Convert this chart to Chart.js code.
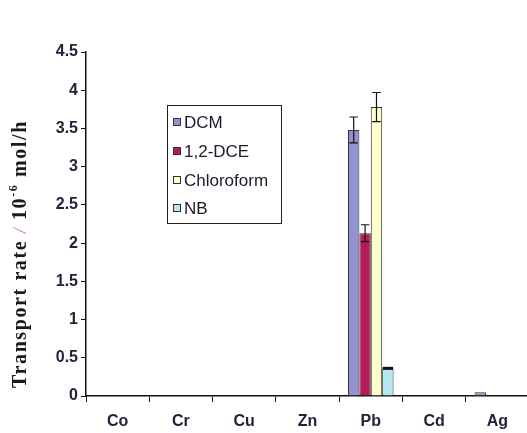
<!DOCTYPE html>
<html>
<head>
<meta charset="utf-8">
<script src="https://cdn.jsdelivr.net/npm/chart.js@4.4.1/dist/chart.umd.min.js"></script>
<style>
html,body{margin:0;padding:0;background:#fff;overflow:hidden;width:527px;height:433px;}
#wrap{position:absolute;left:0;top:0;width:529px;height:433px;}
</style>
</head>
<body>
<div id="wrap"><canvas id="c" width="529" height="433"></canvas></div>
<script>
// ---- data ----
const categories = ["Co", "Cr", "Cu", "Zn", "Pb", "Cd", "Ag"];
const seriesNames = ["DCM", "1,2-DCE", "Chloroform", "NB"];
const dcm        = [0, 0, 0, 0, 3.48, 0, 0.05];
const dce        = [0, 0, 0, 0, 2.13, 0, 0];
const chloroform = [0, 0, 0, 0, 3.78, 0, 0];
const nb         = [0, 0, 0, 0, 0.36, 0, 0];
const errDcm        = [0, 0, 0, 0, 0.17, 0, 0];
const errDce        = [0, 0, 0, 0, 0.11, 0, 0];
const errChloroform = [0, 0, 0, 0, 0.19, 0, 0];
const errNb         = [0, 0, 0, 0, 0.015, 0, 0];
const yTicks = [0, 0.5, 1, 1.5, 2, 2.5, 3, 3.5, 4, 4.5];

const fills = ["#9192CE", "#B8185C", "#FFFFCC", "#B8E5F2"];
const values = [dcm, dce, chloroform, nb];
const errors = [errDcm, errDce, errChloroform, errNb];

const errorBars = {
  id: "errorBars",
  afterDatasetsDraw(chart) {
    const ctx = chart.ctx;
    const y = chart.scales.y;
    chart.data.datasets.forEach((ds, di) => {
      const meta = chart.getDatasetMeta(di);
      meta.data.forEach((bar, i) => {
        const e = errors[di][i];
        if (!e) return;
        const v = values[di][i];
        const x = bar.x;
        const yt = y.getPixelForValue(v + e);
        const yb = y.getPixelForValue(v - e);
        const half = bar.width / 2 - 0.5;
        ctx.save();
        ctx.strokeStyle = "#111";
        ctx.lineWidth = e < 0.05 ? 3 : 1.2;
        ctx.beginPath();
        if (e >= 0.05) {
          ctx.moveTo(x, yt); ctx.lineTo(x, yb);
          ctx.moveTo(x - half + 1, yt); ctx.lineTo(x + half - 1, yt);
          ctx.moveTo(x - half + 1, yb); ctx.lineTo(x + half - 1, yb);
        } else {
          ctx.moveTo(x - half, yt + 1); ctx.lineTo(x + half, yt + 1);
        }
        ctx.stroke();
        ctx.restore();
      });
    });
  }
};

const customLegend = {
  id: "customLegend",
  afterDraw(chart) {
    const ctx = chart.ctx;
    ctx.save();
    ctx.strokeStyle = "#222";
    ctx.lineWidth = 1;
    ctx.strokeRect(167.5, 105.5, 114, 118);
    ctx.font = "17px 'Liberation Sans', Arial, sans-serif";
    ctx.textBaseline = "middle";
    const ys = [122, 151, 180, 208];
    seriesNames.forEach((n, i) => {
      ctx.fillStyle = fills[i];
      ctx.fillRect(173, ys[i] - 4, 8, 8);
      ctx.strokeStyle = "#333";
      ctx.strokeRect(173.5, ys[i] - 3.5, 7, 7);
      ctx.fillStyle = "#1a1a2a";
      ctx.fillText(n, 184, ys[i] + 1);
    });
    ctx.restore();
  }
};

const yTitle = {
  id: "yTitle",
  afterDraw(chart) {
    const ctx = chart.ctx;
    ctx.save();
    ctx.translate(21, 254);
    ctx.rotate(-Math.PI / 2);
    ctx.textBaseline = "middle";
    const main = "bold 20px 'Liberation Serif', 'Times New Roman', serif";
    const sup = "bold 12px 'Liberation Serif', 'Times New Roman', serif";
    const slash = "italic 18px 'Liberation Serif', serif";
    const parts = [
      {t: "Transport rate ", f: main, c: "#1a1a1a", dy: 0},
      {t: "/", f: slash, c: "#c87a5a", dy: 0},
      {t: " 10", f: main, c: "#1a1a1a", dy: 0},
      {t: "-6", f: sup, c: "#1a1a1a", dy: -7},
      {t: " mol/h", f: main, c: "#1a1a1a", dy: 0}
    ];
    ctx.letterSpacing = "1.6px";
    let total = 0;
    parts.forEach(p => { ctx.font = p.f; p.w = ctx.measureText(p.t).width; total += p.w; });
    let x = -total / 2;
    parts.forEach(p => {
      ctx.font = p.f; ctx.fillStyle = p.c;
      ctx.fillText(p.t, x, p.dy);
      x += p.w;
    });
    ctx.restore();
  }
};

new Chart(document.getElementById("c"), {
  type: "bar",
  data: {
    labels: categories,
    datasets: seriesNames.map((n, i) => ({
      label: n,
      data: values[i],
      backgroundColor: fills[i],
      borderColor: "#333",
      borderWidth: 1,
      borderSkipped: "bottom",
      categoryPercentage: 0.72,
      barPercentage: 1.0
    }))
  },
  options: {
    responsive: false,
    animation: false,
    devicePixelRatio: 1,
    layout: { padding: { top: 52, right: 0, left: 0, bottom: 0 } },
    plugins: { legend: { display: false }, tooltip: { enabled: false } },
    scales: {
      x: {
        afterFit(s) { s.height = 37; },
        grid: { drawOnChartArea: false, drawTicks: true, tickLength: 6, color: "#111", offset: true },
        border: { display: true, color: "#111", width: 1.5 },
        ticks: { color: "#22223a", padding: 10, font: { family: "'Liberation Sans', Arial, sans-serif", size: 16, weight: "bold" } }
      },
      y: {
        min: 0, max: 4.5,
        afterFit(s) { s.width = 86; },
        afterBuildTicks(s) { s.ticks = yTicks.map(v => ({ value: v })); },
        grid: { drawOnChartArea: false, drawTicks: true, tickLength: 5, color: "#111" },
        border: { display: true, color: "#111", width: 1.5 },
        ticks: { color: "#22223a", padding: 3, font: { family: "'Liberation Sans', Arial, sans-serif", size: 16, weight: "bold" },
          callback: v => String(v) }
      }
    }
  },
  plugins: [errorBars, customLegend, yTitle]
});
</script>
</body>
</html>
